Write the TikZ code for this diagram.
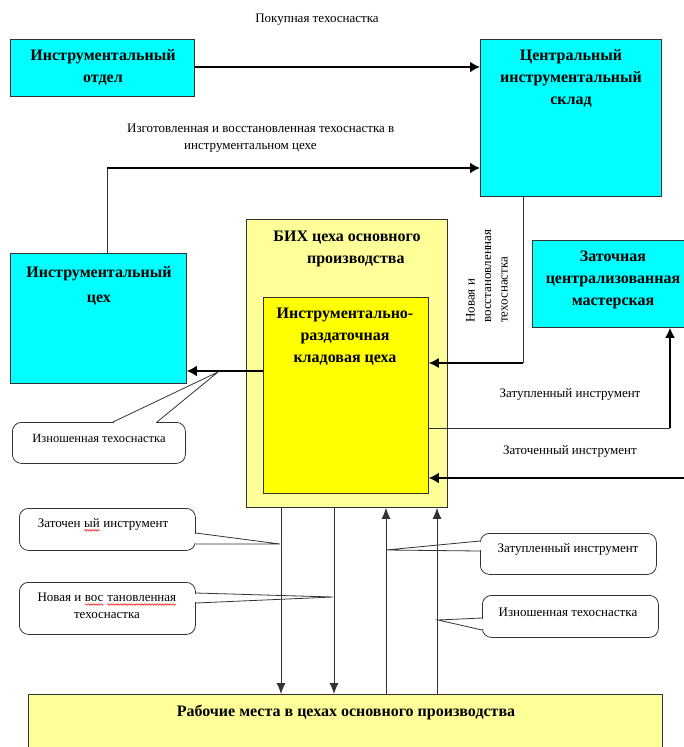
\documentclass[tikz,border=0pt]{standalone}
\usepackage{fontspec}
\setmainfont{Liberation Serif}
\usetikzlibrary{arrows.meta,calc,decorations.pathmorphing}
\definecolor{aquabox}{HTML}{00FFFF}
\definecolor{paleyellow}{HTML}{FFFF99}
\definecolor{brightyellow}{HTML}{FFFF00}
\definecolor{edgegray}{HTML}{333333}
% red wavy spell-check underline
\newcommand\spellmark[1]{\tikz[x=1pt,y=1pt,baseline=(sm.base)]{\node[inner sep=0pt,outer sep=0pt,anchor=base] (sm) {#1};
  \draw[red, line width=0.5pt, decorate, decoration={snake,amplitude=0.8pt,segment length=2.6pt}] ([yshift=-2.8pt]sm.base west) -- ([yshift=-2.8pt]sm.base east);}}

\begin{document}
\begin{tikzpicture}[x=1pt,y=-1pt,
  block/.style={draw=edgegray, line width=0.8pt, anchor=north west, inner sep=0pt, rectangle},
  title/.style={font=\fontsize{16}{22}\selectfont\bfseries, align=center, inner sep=0pt, anchor=north},
  caption/.style={font=\fontsize{13}{17}\selectfont, align=center, inner sep=0pt},
  bubble/.style={draw=edgegray, line width=0.8pt, fill=white, rounded corners=9pt, anchor=north west, inner sep=0pt, rectangle},
  heavy/.style={line width=2pt, -{Latex[length=10pt,width=11pt]}},
  plain/.style={line width=1pt, draw=black!80},
  down/.style={line width=1pt, draw=black!80, -{Latex[length=11pt,width=9pt]}},
  up/.style={line width=1pt, draw=black!80, -{Latex[length=11pt,width=9pt]}},
]
\useasboundingbox (0,0) rectangle (684,747);
\fill[white] (0,0) rectangle (684,747);

% ---------- blocks ----------
\node[block, fill=aquabox, minimum width=184pt, minimum height=57pt] (otdel) at (10,39) {};
\node[block, fill=aquabox, minimum width=181pt, minimum height=157pt] (sklad) at (480,39) {};
\node[block, fill=aquabox, minimum width=176pt, minimum height=130pt] (tsekh) at (10,253) {};
\node[block, fill=paleyellow, minimum width=201pt, minimum height=288pt] (bih) at (246,219) {};
\node[block, fill=brightyellow, minimum width=165pt, minimum height=196pt] (kladovaya) at (263,297) {};
\node[block, fill=aquabox, minimum width=165pt, minimum height=87pt] (zatochnaya) at (532,240) {};
\node[block, fill=paleyellow, minimum width=634pt, minimum height=70pt] (rabochie) at (28,694) {};

% ---------- block titles ----------
\node[title] (otdelT) at (103,49) {Инструментальный\\отдел};
\node[title] (skladT) at (571,49) {Центральный\\инструментальный\\склад};
\node[title, font=\fontsize{16}{25}\selectfont\bfseries] (tsekhT) at (99,266) {Инструментальный\\цех};
\node[title] (bihT) at (347,231) {БИХ цеха основного\\\hspace*{1.1em}производства};
\node[title] (kladovayaT) at (345,308) {Инструментально-\\раздаточная\\кладовая цеха};
\node[title] (zatochnayaT) at (613,251) {Заточная\\централизованная\\мастерская};
\node[title] (rabochieT) at (346,705) {Рабочие места в цехах основного производства};

% ---------- connector bends ----------
\coordinate (bendIzg) at (107,168);
\coordinate (bendNew) at (523,363);
\coordinate (bendBlunt) at (670,428);
\coordinate (edgeSharp) at (690,478);
\coordinate (levWorn) at (0,371);
\coordinate (dnA) at (281,0);
\coordinate (dnB) at (334,0);
\coordinate (upA) at (386,0);
\coordinate (upB) at (437,0);

% ---------- connectors ----------
\draw[heavy] (otdel.east |- 0,67) -- (sklad.west |- 0,67);
\draw[plain] (tsekh.north -| bendIzg) -- (bendIzg);
\draw[heavy] (bendIzg) -- (sklad.west |- bendIzg);
\draw[plain] (sklad.south -| bendNew) -- (bendNew);
\draw[line width=1.3pt, -{Latex[length=10pt,width=10pt]}] (bendNew) -- (kladovaya.east |- bendNew);
\draw[heavy] (kladovaya.west |- levWorn) -- (tsekh.east |- levWorn);
\draw[plain] (kladovaya.east |- bendBlunt) -- (bendBlunt);
\draw[line width=1.8pt, -{Latex[length=10pt,width=10pt]}] (bendBlunt) -- (zatochnaya.south -| bendBlunt);
\draw[heavy] (edgeSharp) -- (kladovaya.east |- edgeSharp);
\draw[down] (bih.south -| dnA) -- (rabochie.north -| dnA);
\draw[down] (bih.south -| dnB) -- (rabochie.north -| dnB);
\draw[up] (rabochie.north -| upA) -- (bih.south -| upA);
\draw[up] (rabochie.north -| upB) -- (bih.south -| upB);

% ---------- connector labels ----------
\node[caption] (lblBuy) at (317,20) {Покупная техоснастка};
\node[caption, anchor=west] (lblMade1) at (127,128) {Изготовленная и восстановленная техоснастка в};
\node[caption, anchor=west] (lblMade2) at (184,148) {инструментальном цехе};
\node[caption, rotate=90, align=left, font=\fontsize{13}{16.5}\selectfont] (lblNew) at (487,276) {Новая и\\восстановленная\\техоснастка};
\node[caption] (lblBlunt) at (570,394) {Затупленный инструмент};
\node[caption] (lblSharp) at (570,451) {Заточенный инструмент};

% ---------- callouts ----------
% worn tooling, to the workshop
\node[bubble, minimum width=173pt, minimum height=41pt] (bubWornL) at (12,422) {};
\coordinate (tipWornL) at (218,372);
\draw[white, line width=1.6pt] ($(bubWornL.north west)+(102,0)$) -- ($(bubWornL.north west)+(144,0)$);
\draw[edgegray, line width=0.8pt] ($(bubWornL.north west)+(101,0)$) -- (tipWornL) -- ($(bubWornL.north west)+(145,0)$);
\node[caption, font=\fontsize{12.5}{16}\selectfont] (txtWornL) at (99,438) {Изношенная техоснастка};

% sharpened tools, down to the work places
\node[bubble, minimum width=176pt, minimum height=42pt] (bubSharp) at (19,508) {};
\coordinate (tipSharp) at (280,544);
\draw[white, line width=1.6pt] ($(bubSharp.north east)+(0,26)$) -- ($(bubSharp.north east)+(0,35)$);
\draw[edgegray, line width=0.8pt] ($(bubSharp.north east)+(0,25)$) -- (tipSharp) -- ($(bubSharp.north east)+(0,36)$);
\node[caption] (txtSharp) at (103,525) {Заточен \spellmark{ый} инструмент};

% new and restored tooling, down to the work places
\node[bubble, minimum width=176pt, minimum height=52pt] (bubNew) at (19,582) {};
\coordinate (tipNew) at (333,597);
\draw[white, line width=1.6pt] ($(bubNew.north east)+(0,12)$) -- ($(bubNew.north east)+(0,20)$);
\draw[edgegray, line width=0.8pt] ($(bubNew.north east)+(0,11)$) -- (tipNew) -- ($(bubNew.north east)+(0,21)$);
\node[caption] (txtNew) at (107,606) {Новая и \spellmark{вос} \spellmark{тановленная}\\техоснастка};

% blunt tools, up from the work places
\node[bubble, minimum width=176pt, minimum height=41pt] (bubBlunt) at (480,533) {};
\coordinate (tipBlunt) at (386,550);
\draw[white, line width=1.6pt] ($(bubBlunt.north west)+(0,9)$) -- ($(bubBlunt.north west)+(0,17)$);
\draw[edgegray, line width=0.8pt] ($(bubBlunt.north west)+(0,8)$) -- (tipBlunt) -- ($(bubBlunt.north west)+(0,18)$);
\node[caption] (txtBlunt) at (568,549) {Затупленный инструмент};

% worn tooling, up from the work places
\node[bubble, minimum width=176pt, minimum height=42pt] (bubWornR) at (482,595) {};
\coordinate (tipWornR) at (438,620);
\draw[white, line width=1.6pt] ($(bubWornR.north west)+(0,24)$) -- ($(bubWornR.north west)+(0,34)$);
\draw[edgegray, line width=0.8pt] ($(bubWornR.north west)+(0,23)$) -- (tipWornR) -- ($(bubWornR.north west)+(0,35)$);
\node[caption] (txtWornR) at (568,612) {Изношенная техоснастка};
\end{tikzpicture}
\end{document}
